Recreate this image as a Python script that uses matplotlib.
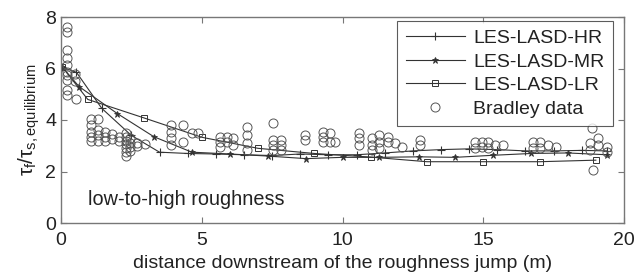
import matplotlib
matplotlib.use("Agg")
import matplotlib.pyplot as plt

plt.rcParams['font.family'] = ['Liberation Sans', 'DejaVu Sans']
plt.rcParams['mathtext.fontset'] = 'custom'
plt.rcParams['mathtext.rm'] = 'Liberation Sans'
plt.rcParams['mathtext.it'] = 'Liberation Sans'
plt.rcParams['mathtext.bf'] = 'Liberation Sans:bold'

# LES-LASD-HR
hr_x = [0.05, 0.55, 1.45, 2.5, 3.5, 4.5, 5.5, 6.5, 7.5, 8.5, 9.5, 10.5, 11.5,
        12.5, 13.5, 14.5, 15.5, 16.5, 17.5, 18.5, 19.4]
hr_y = [6.05, 5.85, 4.45, 3.4, 2.75, 2.7, 2.68, 2.65, 2.62, 2.68, 2.65, 2.65,
        2.72, 2.8, 2.85, 2.88, 2.85, 2.8, 2.8, 2.82, 2.8]
# LES-LASD-MR
mr_x = [0.05, 0.64, 2.0, 3.3, 4.65, 6.0, 7.35, 8.7, 10.0, 11.3, 12.7, 14.0,
        15.35, 16.7, 18.0, 19.4]
mr_y = [6.05, 5.3, 4.25, 3.35, 2.75, 2.68, 2.6, 2.5, 2.55, 2.55, 2.57, 2.55,
        2.63, 2.7, 2.72, 2.65]
# LES-LASD-LR
lr_x = [0.05, 0.95, 2.95, 5.0, 7.0, 9.0, 11.0, 13.0, 15.0, 17.0, 19.0]
lr_y = [6.05, 4.8, 4.08, 3.33, 2.9, 2.7, 2.56, 2.38, 2.38, 2.38, 2.44]

# Bradley data
br_x = [0.2] * 10 + [0.5, 0.5, 0.55] + [1.05] * 5 + [1.3] * 4 + [1.55] * 3 + \
       [1.8] * 2 + [2.05] * 2 + [2.3] * 7 + [2.45] * 4 + [2.7] * 2 + [3.0] + \
       [3.9] * 4 + [4.35] * 2 + [4.65, 4.87] + [5.65] * 3 + [5.9] * 2 + \
       [6.1] * 2 + [6.6] * 4 + [7.53] * 4 + [7.8] * 3 + [8.67] * 2 + \
       [9.3] * 3 + [9.55] * 2 + [9.73] + [10.6] * 3 + [11.05] * 3 + \
       [11.3] * 3 + [11.6] * 2 + [11.85, 12.1] + [12.75] * 2 + \
       [14.7] * 2 + [14.95] * 2 + [15.17] * 2 + [15.4, 15.7] + \
       [16.77] * 2 + [17.0] * 2 + [17.3, 17.6] + [18.8] * 2 + \
       [18.85, 18.9] + [19.07] * 2 + [19.4] * 2
br_y = [7.62, 7.43, 6.72, 6.4, 6.13, 5.86, 5.75, 5.55, 5.17, 4.97,
        5.8, 5.5, 4.8,
        4.05, 3.8, 3.55, 3.35, 3.2,
        4.05, 3.6, 3.4, 3.2,
        3.55, 3.35, 3.2,
        3.45, 3.25,
        3.35, 3.2,
        3.5, 3.35, 3.2, 3.05, 2.9, 2.75, 2.6,
        3.3, 3.1, 2.95, 2.8,
        3.1, 3.0,
        3.05,
        3.8, 3.53, 3.3, 3.03,
        3.8, 3.15,
        3.5, 3.5,
        3.35, 3.15, 2.97,
        3.35, 3.15,
        3.3, 3.03,
        3.73, 3.42, 3.1, 2.84,
        3.88, 3.22, 3.03, 2.84,
        3.22, 3.03, 2.84,
        3.42, 3.22,
        3.53, 3.35, 3.15,
        3.5, 3.15,
        3.15,
        3.5, 3.3, 3.03,
        3.3, 3.03, 2.84,
        3.42, 3.15, 2.9,
        3.35, 3.15,
        3.1, 2.97,
        3.22, 3.03,
        3.15, 2.9,
        3.15, 2.95,
        3.15, 2.9,
        3.03, 3.03,
        3.15, 2.9,
        3.15, 2.9,
        3.03, 2.95,
        3.1, 2.84,
        3.69, 2.06,
        3.3, 3.03,
        2.95, 2.77]

labels = ['LES-LASD-HR', 'LES-LASD-MR', 'LES-LASD-LR', 'Bradley data']
x_ticks = [0, 5, 10, 15, 20]
y_ticks = [0, 2, 4, 6, 8]

fig = plt.figure(figsize=(6.36, 2.75), dpi=100)
ax = fig.add_axes([61 / 636, 1 - 223 / 275, 563 / 636, 206 / 275])

lc = '#333333'
ax.plot(hr_x, hr_y, '-', color=lc, lw=0.8, marker='+', ms=6, mew=0.8, label=labels[0])
ax.plot(mr_x, mr_y, '-', color=lc, lw=0.8, marker='*', ms=5, mew=0.6, label=labels[1])
ax.plot(lr_x, lr_y, '-', color=lc, lw=0.8, marker='s', ms=4.5, mfc='none', mew=0.7, label=labels[2])
ax.plot(br_x, br_y, 'o', ms=6.5, mfc='none', mec='#555555', mew=0.7, label=labels[3])

ax.set_xlim(0, 20)
ax.set_ylim(0, 8)
ax.set_xticks(x_ticks)
ax.set_yticks(y_ticks)
ax.tick_params(direction='in', top=True, right=True, length=4, width=0.8,
               labelsize=14, colors='#222222')
ax.tick_params(axis='x', pad=6.5)
for s in ax.spines.values():
    s.set_color('#777777')
    s.set_linewidth(1.0)
ax.tick_params(color='#777777')

ax.set_xlabel('distance downstream of the roughness jump (m)', fontsize=14, labelpad=4,
              color='#222222')
ax.set_ylabel(r'$\tau_f/\tau_{s,\mathrm{equilibrium}}$', fontsize=15, labelpad=2,
              color='#222222')

ax.text(0.95, 0.92, 'low-to-high roughness', fontsize=14.3, va='center', ha='left',
        color='#222222')

leg = ax.legend(loc='upper right', bbox_to_anchor=(0.981, 0.981), borderaxespad=0,
                fontsize=14, frameon=True, fancybox=False, handlelength=3.0,
                handletextpad=0.45, labelspacing=0.3, borderpad=0.45)
leg.get_frame().set_edgecolor('#333333')
leg.get_frame().set_linewidth(0.8)
for t in leg.get_texts():
    t.set_color('#222222')

fig.savefig('out.png', dpi=100)
